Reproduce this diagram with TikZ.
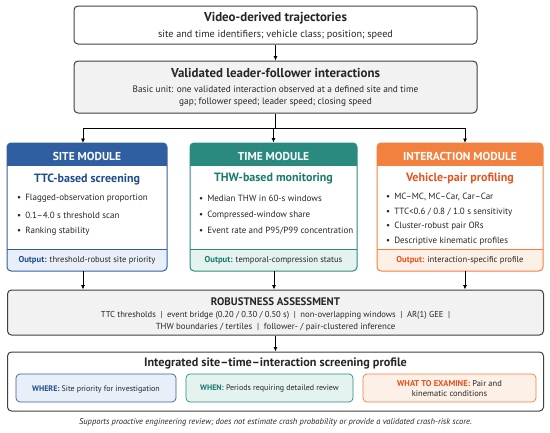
\documentclass[tikz,border=0pt]{standalone}
\usepackage{fontspec}
\setmainfont{PT Sans}
\usetikzlibrary{arrows.meta}
\definecolor{boxgray}{HTML}{404040}
\definecolor{panelgray}{HTML}{F2F2F2}
\definecolor{siteblue}{HTML}{2F5FA0}
\definecolor{sitedark}{HTML}{1F4C8A}
\definecolor{sitelight}{HTML}{E9EFF8}
\definecolor{timeteal}{HTML}{2A8A80}
\definecolor{timedark}{HTML}{1B7A70}
\definecolor{timelight}{HTML}{E4F3F0}
\definecolor{pairorange}{HTML}{F2803E}
\definecolor{pairdark}{HTML}{E5531E}
\definecolor{pairlight}{HTML}{FDF0E6}
\definecolor{bodytext}{HTML}{262626}

\begin{document}
\begin{tikzpicture}[x=1pt, y=-1pt, every node/.style={inner sep=0pt, text=bodytext},
  box/.style={draw=boxgray, line width=1pt, rounded corners=4pt},
  arr/.style={-{Latex[length=4.5pt,width=4pt]}, line width=0.8pt},
  big/.style={font=\fontsize{12.9}{14}\selectfont\bfseries},
  small/.style={font=\fontsize{9.3}{11}\selectfont},
  head/.style={font=\fontsize{11.5}{13}\selectfont\bfseries, text=white},
  modtitle/.style={font=\fontsize{12}{14}\selectfont\bfseries},
  item/.style={anchor=west, font=\fontsize{9}{11}\selectfont},
  outtxt/.style={font=\fontsize{8.6}{10}\selectfont},
  subtxt/.style={font=\fontsize{8}{9.5}\selectfont}]
  \useasboundingbox (0,0) rectangle (550,432);

  % input and validated interactions
  \node[box, minimum width=403pt, minimum height=38pt] (traj) at (275.5,25) {};
  \node[big] at (275.5,18) {Video-derived trajectories};
  \node[font=\fontsize{10.2}{12}\selectfont] at (275.5,34.5) {site and time identifiers; vehicle class; position; speed};

  \node[box, fill=panelgray, minimum width=403pt, minimum height=52pt] (valid) at (275.5,87) {};
  \node[big] at (275.5,73) {Validated leader-follower interactions};
  \node[small] at (275.5,89) {Basic unit: one validated interaction observed at a defined site and time};
  \node[small] at (275.5,102.5) {gap; follower speed; leader speed; closing speed};

  % three modules
  \begin{scope}
    \clip[rounded corners=4pt] (7,143) rectangle (167,271);
    \fill[siteblue] (7,143) rectangle (167,166);
    \fill[sitelight] (7,249) rectangle (167,271);
  \end{scope}
  \draw[siteblue, line width=0.6pt] (7,249) -- (167,249);
  \node[box, draw=siteblue, minimum width=160pt, minimum height=128pt] (site) at (87,207) {};
  \node[head] at (87,156) {SITE MODULE};
  \node[modtitle, text=sitedark] at (87,179) {TTC-based screening};
  \node[item] at (17,198) {\textbullet\hspace{4pt}Flagged-observation proportion};
  \node[item] at (17,215) {\textbullet\hspace{4pt}0.1--4.0 s threshold scan};
  \node[item] at (17,231) {\textbullet\hspace{4pt}Ranking stability};
  \node[outtxt] at (87,260) {\textbf{\color{sitedark}Output:} threshold-robust site priority};

  \begin{scope}
    \clip[rounded corners=4pt] (190,143) rectangle (357,271);
    \fill[timeteal] (190,143) rectangle (357,166);
    \fill[timelight] (190,249) rectangle (357,271);
  \end{scope}
  \draw[timeteal, line width=0.6pt] (190,249) -- (357,249);
  \node[box, draw=timeteal, minimum width=167pt, minimum height=128pt] (time) at (273.5,207) {};
  \node[head] at (273.5,156) {TIME MODULE};
  \node[modtitle, text=timedark] at (273.5,179) {THW-based monitoring};
  \node[item] at (199,198) {\textbullet\hspace{4pt}Median THW in 60-s windows};
  \node[item] at (199,215) {\textbullet\hspace{4pt}Compressed-window share};
  \node[item] at (199,231) {\textbullet\hspace{4pt}Event rate and P95/P99 concentration};
  \node[outtxt] at (273.5,260) {\textbf{\color{timedark}Output:} temporal-compression status};

  \begin{scope}
    \clip[rounded corners=4pt] (377,143) rectangle (543,271);
    \fill[pairorange] (377,143) rectangle (543,166);
    \fill[pairlight] (377,249) rectangle (543,271);
  \end{scope}
  \draw[pairorange, line width=0.6pt] (377,249) -- (543,249);
  \node[box, draw=pairorange, minimum width=166pt, minimum height=128pt] (pair) at (460,207) {};
  \node[head] at (460,156) {INTERACTION MODULE};
  \node[modtitle, text=pairdark] at (460,179) {Vehicle-pair profiling};
  \node[item] at (386,197) {\textbullet\hspace{4pt}MC--MC, MC--Car, Car--Car};
  \node[item] at (386,212) {\textbullet\hspace{4pt}TTC<0.6 / 0.8 / 1.0 s sensitivity};
  \node[item] at (386,226) {\textbullet\hspace{4pt}Cluster-robust pair ORs};
  \node[item] at (386,241) {\textbullet\hspace{4pt}Descriptive kinematic profiles};
  \node[outtxt] at (460,260) {\textbf{\color{pairdark}Output:} interaction-specific profile};

  % robustness
  \node[box, fill=panelgray, minimum width=536pt, minimum height=45pt] (robust) at (275.5,312.5) {};
  \node[font=\fontsize{10.9}{12}\selectfont\bfseries] at (275.5,301.5) {ROBUSTNESS ASSESSMENT};
  \node[font=\fontsize{8.6}{10}\selectfont] at (275.5,315.5) {TTC thresholds \ | \ event bridge (0.20 / 0.30 / 0.50 s) \ | \ non-overlapping windows \ | \ AR(1) GEE \ |};
  \node[font=\fontsize{8.8}{10}\selectfont] at (275.5,327.5) {THW boundaries / tertiles \ | \ follower- / pair-clustered inference};

  % integrated profile
  \node[box, minimum width=536pt, minimum height=59pt] (integ) at (275.5,381.5) {};
  \node[font=\fontsize{12.2}{14}\selectfont\bfseries] at (275.5,363.5) {Integrated site--time--interaction screening profile};
  \node[box, draw=siteblue, fill=sitelight, line width=0.7pt, minimum width=160pt, minimum height=28pt] (where) at (96,388) {};
  \node[subtxt] at (96,389) {\textbf{\color{sitedark}WHERE:} Site priority for investigation};
  \node[box, draw=timeteal, fill=timelight, line width=0.7pt, minimum width=167pt, minimum height=28pt] (when) at (269.5,388) {};
  \node[subtxt] at (269.5,389) {\textbf{\color{timedark}WHEN:} Periods requiring detailed review};
  \node[box, draw=pairorange, fill=pairlight, line width=0.7pt, minimum width=173pt, minimum height=28pt] (what) at (449.5,388) {};
  \node[font=\fontsize{8.5}{10}\selectfont, align=center] at (449.5,389) {\textbf{\color{pairdark}WHAT TO EXAMINE:} Pair and\\kinematic conditions};

  \node[font=\fontsize{8.5}{10}\selectfont\itshape] at (275.5,422) {Supports proactive engineering review; does not estimate crash probability or provide a validated crash-risk score.};

  % connectors
  \coordinate (split) at (275.5,128);
  \coordinate (sitein) at (83,143);
  \coordinate (pairin) at (465,143);
  \coordinate (siteout) at (83,271);
  \coordinate (timeout) at (274,271);
  \coordinate (pairout) at (465,271);
  \draw[arr] (traj.south) -- (valid.north);
  \draw[line width=0.8pt] (valid.south) -- (split);
  \draw[arr] (split) -| (sitein);
  \draw[arr] (split) -| (pairin);
  \draw[arr] (split -| time.north) -- (time.north);
  \draw[arr] (siteout) -- (siteout |- robust.north);
  \draw[arr] (timeout) -- (timeout |- robust.north);
  \draw[arr] (pairout) -- (pairout |- robust.north);
  \draw[arr] (robust.south) -- (integ.north);
\end{tikzpicture}
\end{document}
